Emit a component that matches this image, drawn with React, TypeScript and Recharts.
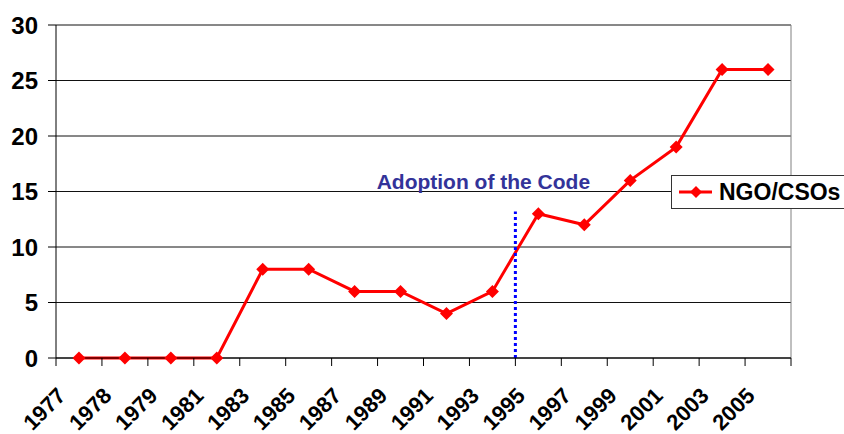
import React from 'react';
import { LineChart, Line, XAxis, YAxis, CartesianGrid, ReferenceLine, Label } from 'recharts';

const years = ['1977', '1978', '1979', '1981', '1983', '1985', '1987', '1989', '1991', '1993', '1995', '1997', '1999', '2001', '2003', '2005'];
const ngoCsos = [0, 0, 0, 0, 8, 8, 6, 6, 4, 6, 13, 12, 16, 19, 26, 26];
const yTicks = [0, 5, 10, 15, 20, 25, 30];
const codeAdoptionPos = 9.5; // boundary before 1995 category
const codeLineTop = 13.2;
const annotationText = 'Adoption of the Code';
const seriesName = 'NGO/CSOs';

const data = years.map((y, i) => ({ idx: i, year: y, ngo: ngoCsos[i] }));
const xTicks = [...years.map((_, i) => i - 0.5), years.length - 0.5];

const FONT = '"Liberation Sans", Arial, sans-serif';

const Diamond = (props: any) => {
  const { cx, cy } = props;
  if (cx == null || cy == null) return null;
  const r = 6.5;
  return <polygon points={`${cx},${cy - r} ${cx + r},${cy} ${cx},${cy + r} ${cx - r},${cy}`} fill="#FF0000" stroke="none" />;
};

const XTick = (props: any) => {
  const { x, y, payload } = props;
  const i = Math.round(payload.value + 0.5);
  if (i < 0 || i >= years.length) return null;
  const ax = x + 11;
  const ay = y + 31;
  return (
    <text x={ax} y={ay} transform={`rotate(-45, ${ax}, ${ay})`} textAnchor="end" fontFamily={FONT} fontWeight="bold" fontSize={22} fill="#000">
      {years[i]}
    </text>
  );
};

const LegendBox = () => (
  <div style={{ position: 'absolute', left: 671, top: 175, width: 180, height: 34, border: '1px solid #333', background: '#fff', display: 'flex', alignItems: 'center', boxSizing: 'border-box' }}>
    <svg width={44} height={20} style={{ marginLeft: 6 }}>
      <line x1={1} y1={10} x2={34} y2={10} stroke="#FF0000" strokeWidth={3} />
      <polygon points="18,4 24,10 18,16 12,10" fill="#FF0000" />
    </svg>
    <span style={{ fontFamily: FONT, fontWeight: 'bold', fontSize: 23, color: '#000', marginLeft: -3 }}>{seriesName}</span>
  </div>
);

export default function App() {
  return (
    <div style={{ position: 'absolute', left: 0, top: 0, width: 844, height: 434, background: '#fff', overflow: 'hidden' }}>
      <LineChart width={844} height={434} data={data} margin={{ top: 25, right: 53, left: 0, bottom: 0 }}>
        <CartesianGrid vertical={false} stroke="#111" strokeWidth={1} />
        <XAxis
          type="number"
          dataKey="idx"
          domain={[-0.5, years.length - 0.5]}
          ticks={xTicks}
          interval={0}
          tickSize={8}
          tickMargin={0}
          tick={<XTick />}
          height={76}
          axisLine={{ stroke: '#000' }}
          tickLine={{ stroke: '#000' }}
        />
        <YAxis
          domain={[0, 30]}
          ticks={yTicks}
          interval={0}
          width={56}
          tickSize={8}
          tickMargin={10}
          axisLine={{ stroke: '#000' }}
          tickLine={{ stroke: '#000' }}
          tick={{ fontFamily: FONT, fontWeight: 'bold', fontSize: 24, fill: '#000' }}
        />
        <ReferenceLine x={years.length - 0.5} stroke="#808080" />
        <Line
          type="linear"
          dataKey="ngo"
          name={seriesName}
          stroke="#FF0000"
          strokeWidth={3}
          dot={<Diamond />}
          activeDot={false}
          isAnimationActive={false}
        />
        <ReferenceLine
          segment={[{ x: codeAdoptionPos, y: 0 }, { x: codeAdoptionPos, y: codeLineTop }]}
          stroke="#0000FF"
          strokeWidth={3}
          strokeDasharray="3 3"
        >
          <Label value={annotationText} position="top" offset={22} dx={-32} fontFamily={FONT} fontWeight="bold" fontSize={21} fill="#333399" />
        </ReferenceLine>
      </LineChart>
      <LegendBox />
    </div>
  );
}
